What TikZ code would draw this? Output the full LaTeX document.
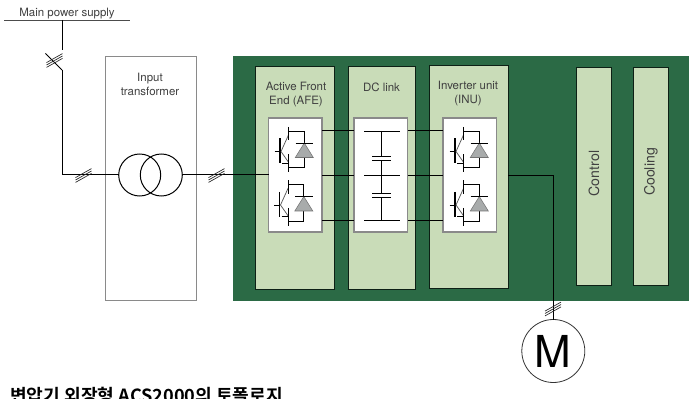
\documentclass[tikz,border=0pt]{standalone}
\usepackage{fontspec}
\setmainfont{TeX Gyre Heros}
\newfontfamily\krfont{Noto Sans CJK KR Bold}
\definecolor{panelgreen}{HTML}{2B6A45}
\definecolor{blockgreen}{HTML}{C9DCB8}
\definecolor{boxgray}{HTML}{8A8A8A}
\definecolor{diodegray}{HTML}{A8ABAB}
\definecolor{labelgray}{HTML}{404040}
\tikzset{
  x=0.75pt,y=-0.75pt,
  pxbox/.style={minimum width=#1,inner sep=0pt,outer sep=0pt,anchor=north west},
  block/.style={draw=black!70!panelgreen,line width=0.5pt,fill=blockgreen,inner sep=0pt,outer sep=0pt,anchor=north west},
  whitebox/.style={draw=boxgray,line width=0.8pt,fill=white,inner sep=0pt,outer sep=0pt,anchor=north west},
  lbl/.style={font=\fontsize{8.6pt}{10.8pt}\selectfont,text=labelgray,align=center,inner sep=0pt},
  wire/.style={draw=black,line width=0.75pt},
  thin wire/.style={draw=black,line width=0.55pt},
  tick/.style={draw=black!85,line width=0.5pt},
  igbt/.pic={
    \draw[line width=1.4pt] (0,-13) -- (0,12);
    \draw[thin wire] (-5.5,0) -- (0,0);
    \draw[line width=0.55pt,draw=black!65] (1,0) -- (8.7,-17);
    \draw[line width=0.55pt,draw=black!65] (1,0) -- (8.7,11);
    \draw[thin wire] (2,11.5) -- (8.7,11.5);
    \draw[thin wire] (8.7,-24.5) -- (8.7,-11);
    \draw[thin wire] (8.7,3) -- (8.7,20.5);
    \draw[wire,line width=0.6pt] (8.7,-20.5) -- (24.3,-20.5) -- (24.3,16) -- (8.7,16);
    \fill[diodegray,draw=black!55,line width=0.4pt] (24.3,-8.5) -- (33.3,6) -- (15.3,6) -- cycle;
    \draw[thin wire] (15.5,-8.5) -- (33,-8.5);
  },
  hash/.pic={
    \foreach \d in {-2.4,0,2.4}
      \draw[tick] (-8,4.5+\d) -- (8,-4.5+\d);
  }
}
\begin{document}
\begin{tikzpicture}
\clip (0,0) rectangle (696,399);
\fill[white] (0,0) rectangle (696,399);

% panels
\node[pxbox=456*0.75pt,minimum height=245*0.75pt,fill=panelgreen] (panel) at (233,56) {};
\node[pxbox=91*0.75pt,minimum height=244*0.75pt,draw=boxgray,line width=0.7pt,fill=white] (tbox) at (105,56) {};
\node[block,minimum width=79*0.75pt,minimum height=223*0.75pt] (afe) at (255,66) {};
\node[block,minimum width=67*0.75pt,minimum height=223*0.75pt] (dc) at (348,66) {};
\node[block,minimum width=79*0.75pt,minimum height=223*0.75pt] (inu) at (429,65) {};
\node[block,minimum width=35*0.75pt,minimum height=218*0.75pt] (control) at (576,67) {};
\node[block,minimum width=35*0.75pt,minimum height=218*0.75pt] (cooling) at (633,67) {};
\node[whitebox,minimum width=53.5*0.75pt,minimum height=114*0.75pt] (afew) at (268.5,118) {};
\node[whitebox,minimum width=53.5*0.75pt,minimum height=114*0.75pt] (dcw) at (354,118) {};
\node[whitebox,minimum width=53.5*0.75pt,minimum height=114*0.75pt] (inuw) at (443,118) {};

% labels
\node[lbl] (lmain) at (67,13.5) {Main power supply};
\node[lbl] (lin) at (150,84.5) {Input\\transformer};
\node[lbl] (lafe) at (296,94.5) {Active Front\\End (AFE)};
\node[lbl] (ldc) at (381.5,87.5) {DC link};
\node[lbl] (linu) at (468,93.5) {Inverter unit\\(INU)};
\node[lbl,rotate=90,font=\fontsize{10.6pt}{12pt}\selectfont] (lctl) at (594,173.5) {Control};
\node[lbl,rotate=90,font=\fontsize{10.6pt}{12pt}\selectfont] (lcool) at (651,172) {Cooling};

% transformer and motor
\node[circle,draw=black,line width=0.75pt,minimum size=42*0.75pt,inner sep=0pt,outer sep=0pt] (t1) at (139.7,175) {};
\node[circle,draw=black,line width=0.75pt,minimum size=42*0.75pt,inner sep=0pt,outer sep=0pt] (t2) at (161.3,175) {};
\node[circle,draw=black!80,line width=0.6pt,fill=white,minimum size=63*0.75pt,inner sep=0pt,outer sep=0pt,font=\fontsize{33pt}{33pt}\selectfont] (motor) at (553.3,351) {M};

% supply line and breaker
\coordinate (busl) at (4,20);
\coordinate (busr) at (130,20);
\coordinate (tap) at (62,20);
\coordinate (brk1) at (62,50);
\coordinate (brk2) at (45.5,53.5);
\coordinate (brk3) at (62,70);
\coordinate (corner) at (62,175);
\draw[draw=black!70,line width=0.7pt] (busl) -- (busr);
\draw[wire] (tap) -- (brk1);
\draw[thin wire] (brk2) -- (brk3);
\draw[wire] (brk3) -- (corner) -- (t1.west);
\pic at (54.5,60.5) {hash};
\pic at (83.5,175.5) {hash};
\draw[wire] (t2.east) -- (afew.west |- t2.east);
\pic at (216.5,175.5) {hash};

% links
\coordinate (ytop) at (0,131);
\coordinate (ymid) at (0,175.5);
\coordinate (ybot) at (0,220);
\draw[wire] (afew.east |- ytop) -- (dcw.west |- ytop);
\draw[wire] (afew.east |- ymid) -- (dcw.west |- ymid);
\draw[wire] (afew.east |- ybot) -- (dcw.west |- ybot);
\draw[wire] (dcw.east |- ytop) -- (inuw.west |- ytop);
\draw[wire] (dcw.east |- ymid) -- (inuw.west |- ymid);
\draw[wire] (dcw.east |- ybot) -- (inuw.west |- ybot);
\coordinate (mc) at (553.3,175.5);
\draw[wire] (inu.east |- ymid) -- (mc) -- (motor.north);
\pic at (553,309) {hash};

% capacitors
\coordinate (cx) at (381.7,0);
\draw[thin wire] (364,131) -- (400,131);
\draw[thin wire] (364,175.5) -- (400,175.5);
\draw[thin wire] (364,220) -- (400,220);
\draw[thin wire] (cx |- ytop) -- (381.7,156.3);
\draw[thin wire] (372,156.3) -- (391,156.3);
\draw[thin wire] (372,160.3) -- (391,160.3);
\draw[thin wire] (381.7,160.3) -- (381.7,193.3);
\draw[thin wire] (372,193.3) -- (391,193.3);
\draw[thin wire] (372,197.3) -- (391,197.3);
\draw[thin wire] (381.7,197.3) -- (cx |- ybot);

% switches
\pic at (280,151.5) {igbt};
\pic at (279.5,205) {igbt};
\pic at (455,151.5) {igbt};
\pic at (455,205) {igbt};

% caption (cut by the lower edge, as in the reference)
\node[font=\krfont\fontsize{13.6pt}{15pt}\selectfont,anchor=west,inner sep=0pt,text=black] (caption) at (10,396) {변압기 외장형 ACS2000의 토폴로지};
\end{tikzpicture}
\end{document}
